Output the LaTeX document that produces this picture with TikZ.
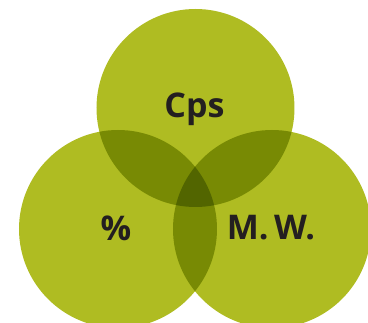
\documentclass[tikz,border=0pt]{standalone}
\usepackage{fontspec}
\setmainfont{Open Sans}
\usetikzlibrary{positioning}
\definecolor{olive}{RGB}{175,188,34}
\definecolor{ink}{RGB}{35,31,32}
\tikzset{
	set/.style={circle,fill=olive,minimum size=198pt,inner sep=0pt},
	lbl/.style={text=ink,font=\fontsize{34}{34}\selectfont\bfseries}
}
\begin{document}
\begin{tikzpicture}[x=1pt,y=-1pt]
	\useasboundingbox (0,0) rectangle (368,323);
	\begin{scope}[blend group=multiply]
	\node[set] (cps) at (195.5,108) {};
	\node[set] (pct) at (118,229) {};
	\node[set] (mw) at (272,229) {};
	\end{scope}
	
	\node[lbl] (cpslbl) at ([xshift=-1pt,yshift=-1pt]cps.center) {Cps};
	\node[lbl] (pctlbl) at ([xshift=-2pt,yshift=1pt]pct.center) {\%};
	\node[lbl] (mwlbl) at ([xshift=-1pt,yshift=1pt]mw.center) {M.\,W.};
\end{tikzpicture}
\end{document}
